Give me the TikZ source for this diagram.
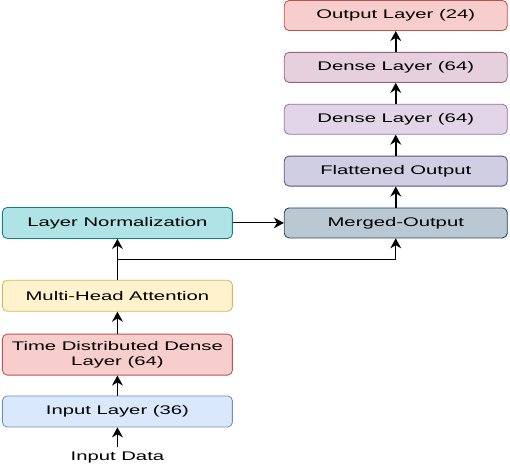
\documentclass[tikz,border=0pt]{standalone}
\usepackage{fontspec}
\setmainfont{Liberation Sans}[FakeStretch=1.62]
\usetikzlibrary{arrows.meta,positioning,calc}

\definecolor{outfill}{HTML}{F8CECC}
\definecolor{outdraw}{HTML}{B85450}
\definecolor{densetwofill}{HTML}{E6D0DE}
\definecolor{densetwodraw}{HTML}{996185}
\definecolor{denseonefill}{HTML}{E1D5E7}
\definecolor{denseonedraw}{HTML}{9673A6}
\definecolor{flatfill}{HTML}{D0CEE2}
\definecolor{flatdraw}{HTML}{56517E}
\definecolor{mergefill}{HTML}{BAC8D3}
\definecolor{mergedraw}{HTML}{23445D}
\definecolor{normfill}{HTML}{B0E3E6}
\definecolor{normdraw}{HTML}{0E8088}
\definecolor{attnfill}{HTML}{FFF2CC}
\definecolor{attndraw}{HTML}{D6B656}
\definecolor{inputfill}{HTML}{DAE8FC}
\definecolor{inputdraw}{HTML}{6C8EBF}

\begin{document}
\begin{tikzpicture}[
    node distance=0.525cm,
    >={Stealth[length=2.5mm,width=2.7mm]},
    block/.style={
        rectangle,
        draw,
        line width=0.6pt,
        rounded corners=0.12cm,
        align=center,
        minimum width=5.75cm,
        minimum height=0.775cm,
        font=\fontsize{8.9}{10.7}\selectfont,
        text=black
    },
    rblock/.style={block, minimum width=5.575cm, minimum height=0.75cm},
    line/.style={draw, ->, line width=1.2pt},
    thinline/.style={draw, ->, line width=0.7pt}
]

\node[block, fill=normfill, draw=normdraw] (norm) {Layer Normalization};
\node[block, fill=attnfill, draw=attndraw, below=1.025cm of norm] (attn) {Multi-Head Attention};
\node[block, fill=outfill, draw=outdraw, minimum height=1.025cm, below=0.55cm of attn] (tdd) {Time Distributed Dense\\Layer (64)};
\node[block, fill=inputfill, draw=inputdraw, below=0.5cm of tdd] (inp) {Input Layer (36)};
\node[below=0.5cm of inp, font=\fontsize{8.9}{10.7}\selectfont, text=black] (data) {Input Data};

\node[rblock, fill=mergefill, draw=mergedraw, right=1.275cm of norm] (merged) {Merged-Output};
\node[rblock, fill=flatfill, draw=flatdraw, above=of merged] (flat) {Flattened Output};
\node[rblock, fill=denseonefill, draw=denseonedraw, above=of flat] (denseone) {Dense Layer (64)};
\node[rblock, fill=densetwofill, draw=densetwodraw, above=of denseone] (densetwo) {Dense Layer (64)};
\node[rblock, fill=outfill, draw=outdraw, above=of densetwo] (out) {Output Layer (24)};

\coordinate (split) at ($(norm.south)!0.5!(attn.north)$);

\draw[line] (data) -- (inp);
\draw[line] (inp) -- (tdd);
\draw[line] (tdd) -- (attn);
\draw[line] (attn) -- (norm);
\draw[thinline] (split) -| (merged.south);
\draw[thinline] (norm) -- (merged);
\draw[line] (merged) -- (flat);
\draw[line] (flat) -- (denseone);
\draw[line] (denseone) -- (densetwo);
\draw[line] (densetwo) -- (out);

\path[use as bounding box] ($(norm.north west)+(-0.05,5.175)$) rectangle ++(12.75,-11.55);

\end{tikzpicture}
\end{document}
